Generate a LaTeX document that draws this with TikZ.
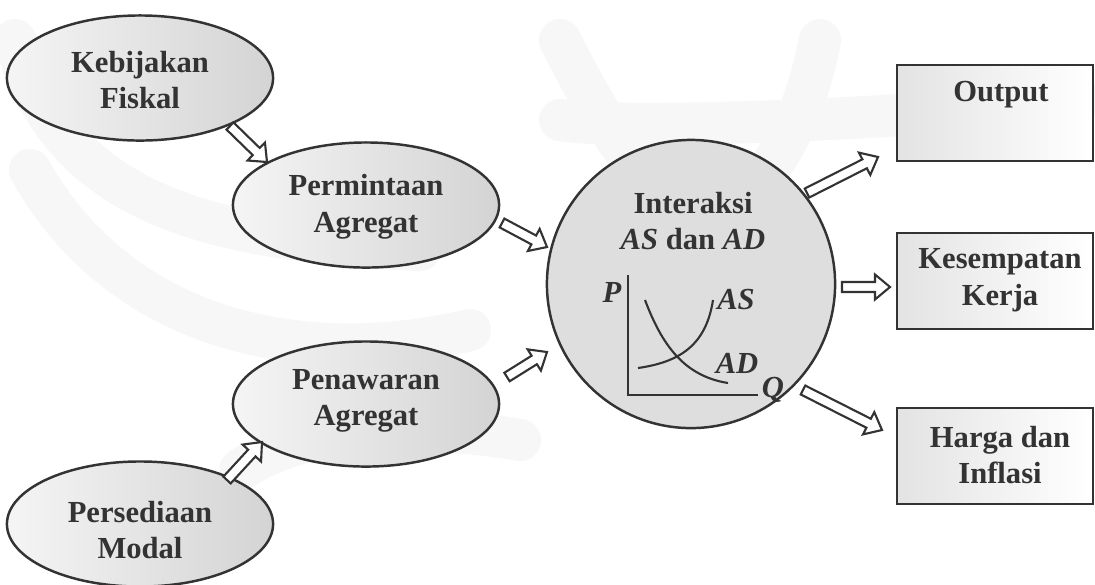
\documentclass[tikz,border=0pt]{standalone}
\usepackage{fontspec}
\setmainfont{Liberation Serif}
\usetikzlibrary{shapes.geometric,calc}
\tikzset{
  lbl/.style={font=\fontsize{8.7}{10.4}\selectfont\bfseries, text=black!80, align=center, inner sep=0pt},
  ilbl/.style={lbl, font=\fontsize{8.7}{10.4}\selectfont\bfseries\itshape},
  ell/.style={ellipse, draw=black!80, line width=0.7pt, minimum width=2.66cm, minimum height=1.25cm, inner sep=0pt, left color=gray!8, right color=gray!34},
  boxnode/.style={rectangle, draw=black!80, line width=0.7pt, minimum width=1.96cm, minimum height=0.96cm, inner sep=0pt, left color=gray!22, middle color=gray!30, right color=white},
  harrow/.style={draw=black!80, line width=0.6pt, fill=white, line join=miter},
  axisline/.style={draw=black!80, line width=0.6pt},
}
\newcommand\blockarrow[2]{%
  \path coordinate (bac) at ($(#2)!0.15cm!(#1)$);
  \draw[harrow] ($(#1)!0.05cm!-90:(#2)$) -- ($(bac)!0.05cm!-90:(#2)$) -- ($(bac)!0.125cm!-90:(#2)$)
     -- (#2) -- ($(bac)!0.125cm!90:(#2)$) -- ($(bac)!0.05cm!90:(#2)$) -- ($(#1)!0.05cm!90:(#2)$) -- cycle;
}
\begin{document}
\begin{tikzpicture}[x=0.01cm, y=-0.01cm]
\useasboundingbox (0,0) rectangle (1095,584);
% faint watermark
\begin{scope}[draw=gray!6, line width=12pt, line cap=round]
  \draw (15,40) .. controls (60,200) and (200,240) .. (420,250);
  \draw (30,170) .. controls (120,330) and (300,370) .. (470,330);
  \draw (560,120) .. controls (620,130) and (900,120) .. (1080,100);
  \draw (560,40) .. controls (620,160) and (660,200) .. (700,220);
  \draw (820,40) .. controls (800,140) and (760,200) .. (700,220);
  \draw (240,470) .. controls (300,430) and (400,420) .. (520,440);
\end{scope}

% nodes
\node[ell] (kf) at (140,78) {};
\node[lbl] at (140,80) {Kebijakan\\Fiskal};
\node[ell] (pa) at (366,205) {};
\node[lbl] at (366,207) {Permintaan\\Agregat};
\node[ell] (pw) at (366,404) {};
\node[lbl] at (366,401) {Penawaran\\Agregat};
\node[ell] (pm) at (140,524) {};
\node[lbl] at (140,530) {Persediaan\\Modal};

\node[circle, draw=black!80, line width=0.7pt, minimum size=2.88cm, inner sep=0pt, fill=gray!26] (ia) at (691,284) {};
\node[lbl] at (693,221) {Interaksi\\\textit{AS} dan \textit{AD}};

% small AS-AD graph
\coordinate (py) at (628,275);
\coordinate (po) at (628,395);
\coordinate (qx) at (758,395);
\draw[axisline] (py) -- (po) -- (qx);
\node[ilbl] at (612,292) {P};
\node[ilbl] at (773,390) {Q};
\coordinate (ad1) at (645,300);
\coordinate (ad2) at (728,383);
\coordinate (as1) at (638,368);
\coordinate (as2) at (713,300);
\draw[axisline] (ad1) .. controls (662,345) and (684,376) .. (ad2);
\draw[axisline] (as1) .. controls (680,362) and (706,345) .. (as2);
\node[ilbl] at (736,300) {AS};
\node[ilbl] at (737,363) {AD};

\node[boxnode] (out) at (995,113) {};
\node[lbl] at (1001,95) {Output};
\node[boxnode] (ks) at (995,281) {};
\node[lbl] at (1000,280) {Kesempatan\\Kerja};
\node[boxnode] (hi) at (995,456) {};
\node[lbl] at (1000,455) {Harga dan\\Inflasi};

% arrow ends
\coordinate (a1s) at (230,126); \coordinate (a1e) at (267,162);
\coordinate (a2s) at (502,223); \coordinate (a2e) at (547,247);
\coordinate (a3s) at (507,377); \coordinate (a3e) at (547,352);
\coordinate (a4s) at (227,480); \coordinate (a4e) at (262,442);
\coordinate (a5s) at (807,193); \coordinate (a5e) at (878,157);
\coordinate (a6s) at (842,287); \coordinate (a6e) at (890,287);
\coordinate (a7s) at (803,390); \coordinate (a7e) at (882,430);
\blockarrow{a1s}{a1e}
\blockarrow{a2s}{a2e}
\blockarrow{a3s}{a3e}
\blockarrow{a4s}{a4e}
\blockarrow{a5s}{a5e}
\blockarrow{a6s}{a6e}
\blockarrow{a7s}{a7e}
\end{tikzpicture}
\end{document}
